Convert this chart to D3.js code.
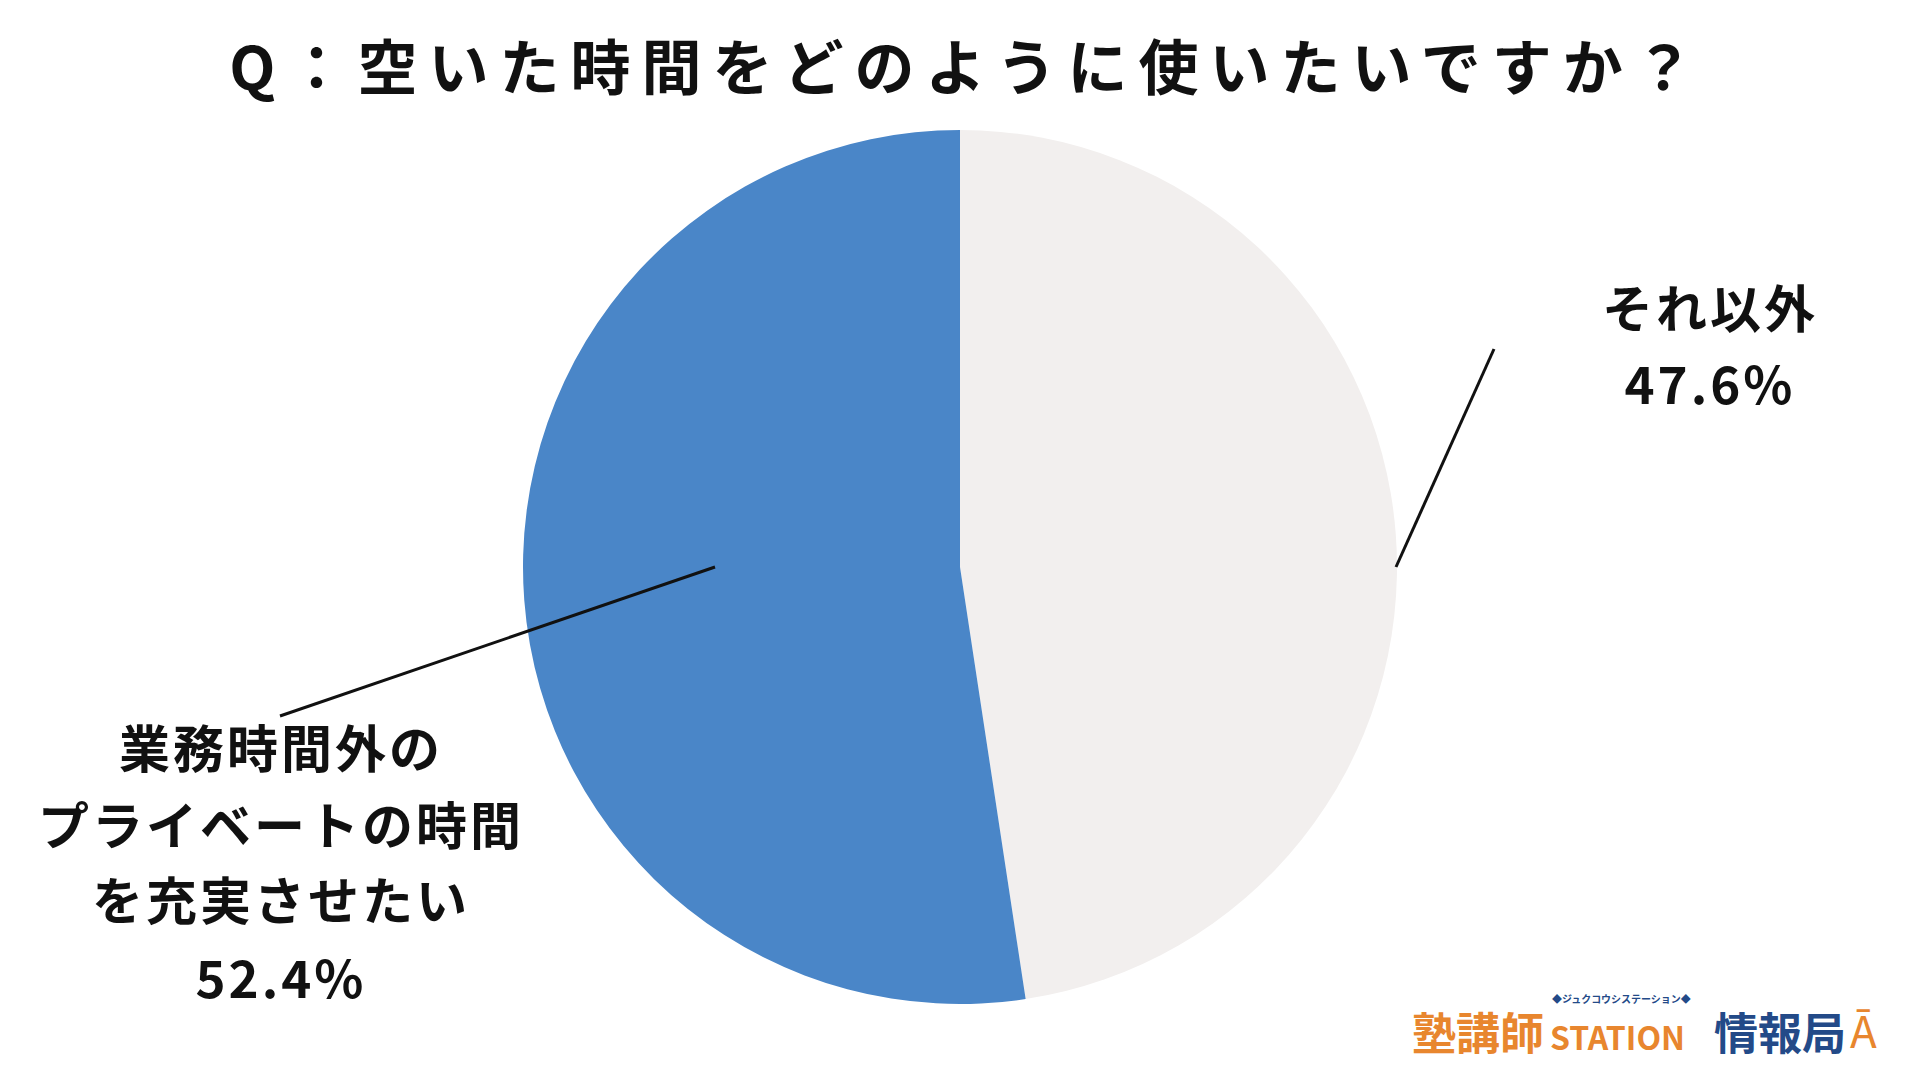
<!DOCTYPE html>
<html><head><meta charset="utf-8">
<script src="https://cdn.jsdelivr.net/npm/d3@7"></script>
<style>body{margin:0;background:#fff}svg{display:block}text{font-family:"Noto Sans CJK JP","Noto Sans",sans-serif;font-weight:bold;fill:#111}</style>
</head><body><svg id="chart" width="1920" height="1080"></svg>
<script>
// Data
const categories = ["それ以外", "業務時間外のプライベートの時間を充実させたい"];
const values = [47.6, 52.4];
const colors = ["#f2efee", "#4a86c8"];

const svg = d3.select("#chart");
const cx = 960, cy = 567, r = 437;

// Title
svg.append("text").attr("x", 967).attr("y", 90).attr("text-anchor", "middle")
  .style("font-size", "60px").style("letter-spacing", "11px")
  .text("Q：空いた時間をどのように使いたいですか？");

// Pie
const pie = d3.pie().sort(null)(values);
const arc = d3.arc().innerRadius(0).outerRadius(r);
svg.append("g").attr("transform", `translate(${cx},${cy})`)
  .selectAll("path").data(pie).enter().append("path")
  .attr("d", arc).style("fill", (_, i) => colors[i]);

// Leader lines
const lines = [[[1396, 567], [1494, 349]], [[715, 567], [280, 716]]];
svg.selectAll("line.leader").data(lines).enter().append("line")
  .attr("x1", d => d[0][0]).attr("y1", d => d[0][1])
  .attr("x2", d => d[1][0]).attr("y2", d => d[1][1])
  .style("stroke", "#111").style("stroke-width", 3);

// Labels
const addLabel = (x, ys, texts) => {
  texts.forEach((t, i) => svg.append("text").attr("x", x).attr("y", ys[i])
    .attr("text-anchor", "middle").attr("dominant-baseline", "central")
    .style("font-size", "51px").style("letter-spacing", "3px").text(t));
};
addLabel(1710, [306, 382], [categories[0], values[0].toFixed(1) + "%"]);
addLabel(281, [746, 823, 898, 976], ["業務時間外の", "プライベートの時間", "を充実させたい", values[1].toFixed(1) + "%"]);

// Logo
const logo = svg.append("g");
logo.append("text").attr("x", 1412).attr("y", 1050).style("font-size", "44px").style("fill", "#e8862e").text("塾講師");
logo.append("text").attr("x", 1550).attr("y", 1050).style("font-size", "32px").style("fill", "#e8862e").text("STATION");
logo.append("text").attr("x", 1552).attr("y", 1003).style("font-size", "10px").style("fill", "#234a88").text("◆ジュクコウシステーション◆");
logo.append("text").attr("x", 1714).attr("y", 1050).style("font-size", "44px").style("fill", "#234a88").text("情報局");
logo.append("text").attr("x", 1850).attr("y", 1048).style("font-size", "44px").style("fill", "#e8862e").style("font-weight", "normal").text("Ā");
</script></body></html>
